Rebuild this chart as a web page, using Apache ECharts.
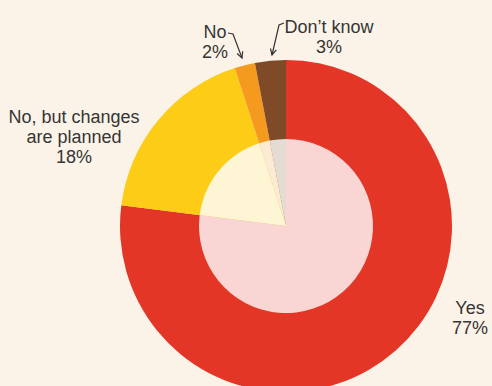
<!DOCTYPE html>
<html>
<head>
<meta charset="utf-8">
<script src="https://cdn.jsdelivr.net/npm/echarts@6/dist/echarts.min.js"></script>
<style>
html,body{margin:0;padding:0;background:#FBF3E8;}
#chart{width:492px;height:386px;}
</style>
</head>
<body>
<div id="chart"></div>
<script>
var categories = ['Yes', 'No, but changes\nare planned', 'No', 'Don\u2019t know'];
var values = [77, 18, 2, 3];
var colors = ['#E43626', '#FDCC16', '#F49A1F', '#7E4A27'];
var innerColors = ['#F9D6D3', '#FEF5D4', '#FCEBD3', '#E4DBD3'];
var labelPos = [
  {x: 470, y: 298},
  {x: 74, y: 107},
  {x: 215, y: 22},
  {x: 329, y: 17}
];

var outerData = categories.map(function (c, i) {
  return {name: c, value: values[i], itemStyle: {color: colors[i]}};
});
var innerData = categories.map(function (c, i) {
  return {name: c, value: values[i], itemStyle: {color: innerColors[i]}};
});

var chart = echarts.init(document.getElementById('chart'), null, {renderer: 'svg'});
chart.setOption({
  backgroundColor: '#FBF3E8',
  animation: false,
  series: [
    {
      type: 'pie',
      center: [286, 226],
      radius: [0, 166],
      startAngle: 90,
      clockwise: true,
      silent: true,
      data: outerData,
      label: {
        show: true,
        formatter: '{b}\n{c}%',
        fontFamily: 'Liberation Sans',
        fontSize: 18,
        lineHeight: 20,
        color: '#353535',
        align: 'center',
        overflow: 'none',
        width: 200
      },
      labelLine: {show: false},
      labelLayout: function (p) {
        var lp = labelPos[p.dataIndex];
        return {x: lp.x, y: lp.y, align: 'center', verticalAlign: 'top', hideOverlap: false};
      }
    },
    {
      type: 'pie',
      center: [286, 226],
      radius: [0, 87],
      startAngle: 90,
      clockwise: true,
      silent: true,
      data: innerData,
      label: {show: false},
      labelLine: {show: false}
    }
  ],
  graphic: [
    {type: 'polyline', shape: {points: [[228, 33], [233, 34], [242, 58]]}, style: {stroke: '#333', lineWidth: 1.2, fill: null}},
    {type: 'polyline', shape: {points: [[237.1, 53.5], [242, 58], [242.7, 51.3]]}, style: {stroke: '#333', lineWidth: 1.2, fill: null}},
    {type: 'polyline', shape: {points: [[284, 23], [279, 25], [272, 55]]}, style: {stroke: '#333', lineWidth: 1.2, fill: null}},
    {type: 'polyline', shape: {points: [[270.5, 48.5], [272, 55], [276.3, 49.9]]}, style: {stroke: '#333', lineWidth: 1.2, fill: null}}
  ]
});
</script>
</body>
</html>
